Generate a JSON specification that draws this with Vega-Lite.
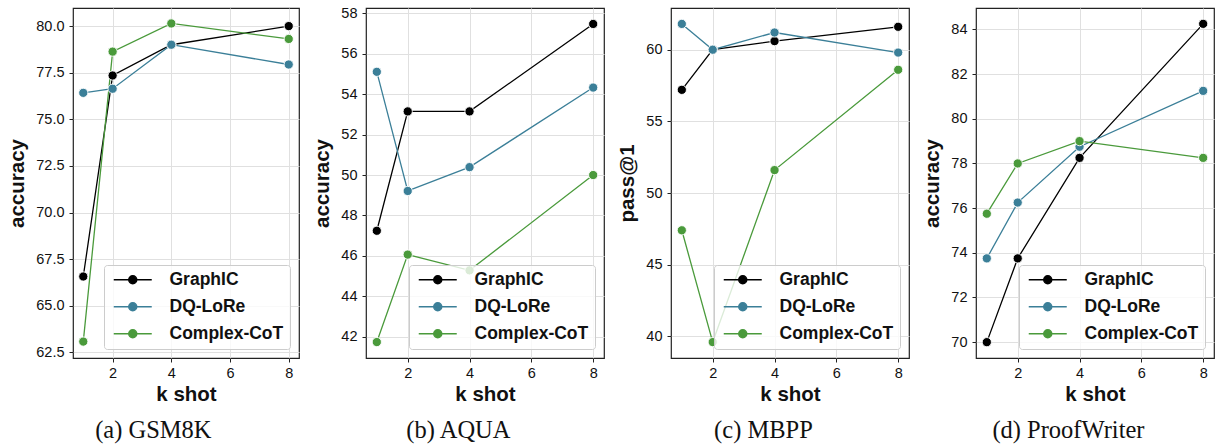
{
  "$schema": "https://vega.github.io/schema/vega-lite/v6.json",
  "padding": {"left": 7, "top": 4, "right": 0, "bottom": 0},
  "bounds": "flush",
  "spacing": 67,
  "datasets": {
    "d": [
      {"panel": "a", "method": "GraphIC", "k": 1, "v": 66.57},
      {"panel": "a", "method": "GraphIC", "k": 2, "v": 77.35},
      {"panel": "a", "method": "GraphIC", "k": 4, "v": 79.0},
      {"panel": "a", "method": "GraphIC", "k": 8, "v": 80.0},
      {"panel": "a", "method": "DQ-LoRe", "k": 1, "v": 76.42},
      {"panel": "a", "method": "DQ-LoRe", "k": 2, "v": 76.64},
      {"panel": "a", "method": "DQ-LoRe", "k": 4, "v": 79.0},
      {"panel": "a", "method": "DQ-LoRe", "k": 8, "v": 77.94},
      {"panel": "a", "method": "Complex-CoT", "k": 1, "v": 63.08},
      {"panel": "a", "method": "Complex-CoT", "k": 2, "v": 78.63},
      {"panel": "a", "method": "Complex-CoT", "k": 4, "v": 80.14},
      {"panel": "a", "method": "Complex-CoT", "k": 8, "v": 79.31},
      {"panel": "b", "method": "GraphIC", "k": 1, "v": 47.24},
      {"panel": "b", "method": "GraphIC", "k": 2, "v": 53.15},
      {"panel": "b", "method": "GraphIC", "k": 4, "v": 53.15},
      {"panel": "b", "method": "GraphIC", "k": 8, "v": 57.48},
      {"panel": "b", "method": "DQ-LoRe", "k": 1, "v": 55.11},
      {"panel": "b", "method": "DQ-LoRe", "k": 2, "v": 49.21},
      {"panel": "b", "method": "DQ-LoRe", "k": 4, "v": 50.39},
      {"panel": "b", "method": "DQ-LoRe", "k": 8, "v": 54.33},
      {"panel": "b", "method": "Complex-CoT", "k": 1, "v": 41.73},
      {"panel": "b", "method": "Complex-CoT", "k": 2, "v": 46.06},
      {"panel": "b", "method": "Complex-CoT", "k": 4, "v": 45.28},
      {"panel": "b", "method": "Complex-CoT", "k": 8, "v": 50.0},
      {"panel": "c", "method": "GraphIC", "k": 1, "v": 57.2},
      {"panel": "c", "method": "GraphIC", "k": 2, "v": 60.0},
      {"panel": "c", "method": "GraphIC", "k": 4, "v": 60.6},
      {"panel": "c", "method": "GraphIC", "k": 8, "v": 61.6},
      {"panel": "c", "method": "DQ-LoRe", "k": 1, "v": 61.8},
      {"panel": "c", "method": "DQ-LoRe", "k": 2, "v": 60.0},
      {"panel": "c", "method": "DQ-LoRe", "k": 4, "v": 61.2},
      {"panel": "c", "method": "DQ-LoRe", "k": 8, "v": 59.8},
      {"panel": "c", "method": "Complex-CoT", "k": 1, "v": 47.4},
      {"panel": "c", "method": "Complex-CoT", "k": 2, "v": 39.6},
      {"panel": "c", "method": "Complex-CoT", "k": 4, "v": 51.6},
      {"panel": "c", "method": "Complex-CoT", "k": 8, "v": 58.6},
      {"panel": "d", "method": "GraphIC", "k": 1, "v": 70.0},
      {"panel": "d", "method": "GraphIC", "k": 2, "v": 73.75},
      {"panel": "d", "method": "GraphIC", "k": 4, "v": 78.25},
      {"panel": "d", "method": "GraphIC", "k": 8, "v": 84.25},
      {"panel": "d", "method": "DQ-LoRe", "k": 1, "v": 73.75},
      {"panel": "d", "method": "DQ-LoRe", "k": 2, "v": 76.25},
      {"panel": "d", "method": "DQ-LoRe", "k": 4, "v": 78.75},
      {"panel": "d", "method": "DQ-LoRe", "k": 8, "v": 81.25},
      {"panel": "d", "method": "Complex-CoT", "k": 1, "v": 75.75},
      {"panel": "d", "method": "Complex-CoT", "k": 2, "v": 78.0},
      {"panel": "d", "method": "Complex-CoT", "k": 4, "v": 79.0},
      {"panel": "d", "method": "Complex-CoT", "k": 8, "v": 78.25}
    ]
  },
  "resolve": {"scale": {"x": "independent", "y": "independent"}, "legend": {"color": "independent"}},
  "hconcat": [
    {
      "width": 226, "height": 350,
      "data": {"name": "d"},
      "transform": [{"filter": "datum.panel == 'a'"}],
      "title": {"text": "(a) GSM8K"},
      "encoding": {
        "x": {"field": "k", "type": "quantitative", "scale": {"domain": [0.65, 8.35], "nice": false, "zero": false}, "axis": {"values": [2, 4, 6, 8], "title": "k shot"}},
        "y": {"field": "v", "type": "quantitative", "scale": {"domain": [62.2, 80.97], "nice": false, "zero": false}, "axis": {"values": [62.5, 65, 67.5, 70, 72.5, 75, 77.5, 80], "format": ".1f", "title": "accuracy"}},
        "color": {"field": "method", "type": "nominal", "scale": {"domain": ["GraphIC", "DQ-LoRe", "Complex-CoT"], "range": ["#000000", "#3b7f98", "#4a9a3b"]}, "legend": {"title": null, "encode": {"symbols": {"update": {"fill": {"scale": "color", "field": "value"}, "stroke": {"scale": "color", "field": "value"}}}}}}
      },
      "layer": [
        {"mark": {"type": "line", "strokeWidth": 1.3}},
        {"mark": {"type": "point", "filled": true, "size": 85, "stroke": "white", "strokeWidth": 0.9, "opacity": 1}}
      ]
    },
    {
      "width": 238, "height": 350,
      "data": {"name": "d"},
      "transform": [{"filter": "datum.panel == 'b'"}],
      "title": {"text": "(b) AQUA"},
      "encoding": {
        "x": {"field": "k", "type": "quantitative", "scale": {"domain": [0.65, 8.35], "nice": false, "zero": false}, "axis": {"values": [2, 4, 6, 8], "title": "k shot"}},
        "y": {"field": "v", "type": "quantitative", "scale": {"domain": [40.94, 58.27], "nice": false, "zero": false}, "axis": {"values": [42, 44, 46, 48, 50, 52, 54, 56, 58], "title": "accuracy"}},
        "color": {"field": "method", "type": "nominal", "scale": {"domain": ["GraphIC", "DQ-LoRe", "Complex-CoT"], "range": ["#000000", "#3b7f98", "#4a9a3b"]}, "legend": {"title": null, "encode": {"symbols": {"update": {"fill": {"scale": "color", "field": "value"}, "stroke": {"scale": "color", "field": "value"}}}}}}
      },
      "layer": [
        {"mark": {"type": "line", "strokeWidth": 1.3}},
        {"mark": {"type": "point", "filled": true, "size": 85, "stroke": "white", "strokeWidth": 0.9, "opacity": 1}}
      ]
    },
    {
      "width": 238, "height": 350,
      "data": {"name": "d"},
      "transform": [{"filter": "datum.panel == 'c'"}],
      "title": {"text": "(c) MBPP"},
      "encoding": {
        "x": {"field": "k", "type": "quantitative", "scale": {"domain": [0.65, 8.35], "nice": false, "zero": false}, "axis": {"values": [2, 4, 6, 8], "title": "k shot"}},
        "y": {"field": "v", "type": "quantitative", "scale": {"domain": [38.49, 62.91], "nice": false, "zero": false}, "axis": {"values": [40, 45, 50, 55, 60], "title": "pass@1"}},
        "color": {"field": "method", "type": "nominal", "scale": {"domain": ["GraphIC", "DQ-LoRe", "Complex-CoT"], "range": ["#000000", "#3b7f98", "#4a9a3b"]}, "legend": {"title": null, "encode": {"symbols": {"update": {"fill": {"scale": "color", "field": "value"}, "stroke": {"scale": "color", "field": "value"}}}}}}
      },
      "layer": [
        {"mark": {"type": "line", "strokeWidth": 1.3}},
        {"mark": {"type": "point", "filled": true, "size": 85, "stroke": "white", "strokeWidth": 0.9, "opacity": 1}}
      ]
    },
    {
      "width": 238, "height": 350,
      "data": {"name": "d"},
      "transform": [{"filter": "datum.panel == 'd'"}],
      "title": {"text": "(d) ProofWriter"},
      "encoding": {
        "x": {"field": "k", "type": "quantitative", "scale": {"domain": [0.65, 8.35], "nice": false, "zero": false}, "axis": {"values": [2, 4, 6, 8], "title": "k shot"}},
        "y": {"field": "v", "type": "quantitative", "scale": {"domain": [69.29, 84.96], "nice": false, "zero": false}, "axis": {"values": [70, 72, 74, 76, 78, 80, 82, 84], "title": "accuracy"}},
        "color": {"field": "method", "type": "nominal", "scale": {"domain": ["GraphIC", "DQ-LoRe", "Complex-CoT"], "range": ["#000000", "#3b7f98", "#4a9a3b"]}, "legend": {"title": null, "encode": {"symbols": {"update": {"fill": {"scale": "color", "field": "value"}, "stroke": {"scale": "color", "field": "value"}}}}}}
      },
      "layer": [
        {"mark": {"type": "line", "strokeWidth": 1.3}},
        {"mark": {"type": "point", "filled": true, "size": 85, "stroke": "white", "strokeWidth": 0.9, "opacity": 1}}
      ]
    }
  ],
  "config": {
    "font": "Liberation Sans",
    "view": {"stroke": "#222222", "strokeWidth": 1.2},
    "axis": {"domain": false, "grid": true, "gridColor": "#e0e0e0", "gridWidth": 1, "tickColor": "#222222", "tickSize": 4, "labelFont": "Liberation Sans", "labelFontSize": 14.5, "labelColor": "#111111", "titleFont": "Liberation Sans", "titleFontSize": 20.5, "titleFontWeight": "bold", "titleColor": "#111111"},
    "axisX": {"labelPadding": 4, "titlePadding": 5},
    "axisY": {"labelPadding": 5, "titlePadding": 8},
    "title": {"orient": "bottom", "anchor": "middle", "frame": "bounds", "font": "Liberation Serif", "fontSize": 24.5, "fontWeight": "normal", "color": "#111111", "offset": 14},
    "legend": {"orient": "bottom-right", "offset": 9, "padding": 6, "fillColor": "rgba(255,255,255,0.8)", "strokeColor": "#cccccc", "cornerRadius": 3, "labelFont": "Liberation Sans", "labelFontSize": 17.5, "labelFontWeight": "bold", "labelColor": "#111111", "symbolType": "M-3.8,0H3.8M-0.8,0A0.8,0.8,0,1,1,0.8,0A0.8,0.8,0,1,1,-0.8,0Z", "symbolSize": 100, "symbolOffset": 14, "labelOffset": 28, "rowPadding": 8, "symbolStrokeWidth": 1.5}
  }
}
